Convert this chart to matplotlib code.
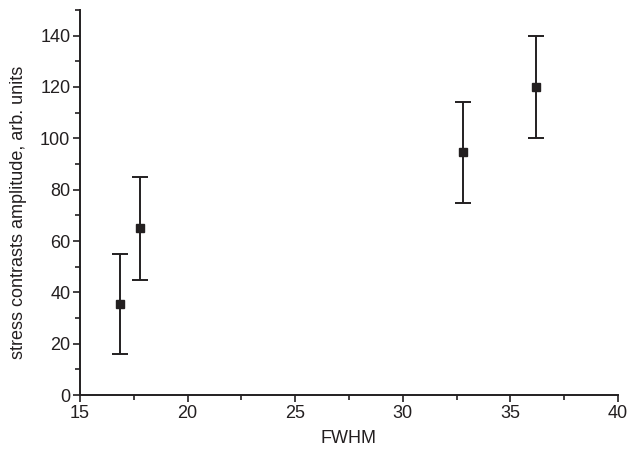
import matplotlib
matplotlib.use("Agg")
import matplotlib.pyplot as plt
from matplotlib.ticker import MultipleLocator

plt.rcParams['font.family'] = ['Liberation Sans', 'DejaVu Sans']

fwhm = [16.85, 17.8, 32.8, 36.2]
amplitude = [35.5, 65.0, 94.5, 120.0]
err_low = [19.5, 20.0, 19.5, 19.7]
err_high = [19.5, 20.0, 19.5, 19.7]

fig = plt.figure(figsize=(6.35, 4.5), dpi=100)
ax = fig.add_axes([0.126, 0.122, 0.847, 0.856])

ax.errorbar(fwhm, amplitude, yerr=[err_low, err_high], fmt='s', color='#231f20',
            markersize=5.5, ecolor='#231f20', elinewidth=1.4, capsize=5.8, capthick=1.4)

ax.set_xlim(15, 40)
ax.set_ylim(0, 150)
ax.xaxis.set_major_locator(MultipleLocator(5))
ax.xaxis.set_minor_locator(MultipleLocator(2.5))
ax.yaxis.set_major_locator(MultipleLocator(20))
ax.yaxis.set_minor_locator(MultipleLocator(10))
ax.set_yticks(range(0, 141, 20))

for side in ['top', 'right']:
    ax.spines[side].set_visible(False)
for side in ['left', 'bottom']:
    ax.spines[side].set_linewidth(1.4)
    ax.spines[side].set_color('#231f20')

ax.tick_params(which='major', direction='out', length=5, width=1.2, labelsize=13,
               colors='#231f20', pad=2)
ax.tick_params(which='minor', direction='out', length=3.5, width=1.2, colors='#231f20')

ax.set_xlabel('FWHM', fontsize=13, color='#231f20', labelpad=6)
ax.set_ylabel('stress contrasts amplitude, arb. units', fontsize=13, color='#231f20')
ax.yaxis.set_label_coords(-0.098, 0.475)

fig.savefig('out.png', dpi=100)
